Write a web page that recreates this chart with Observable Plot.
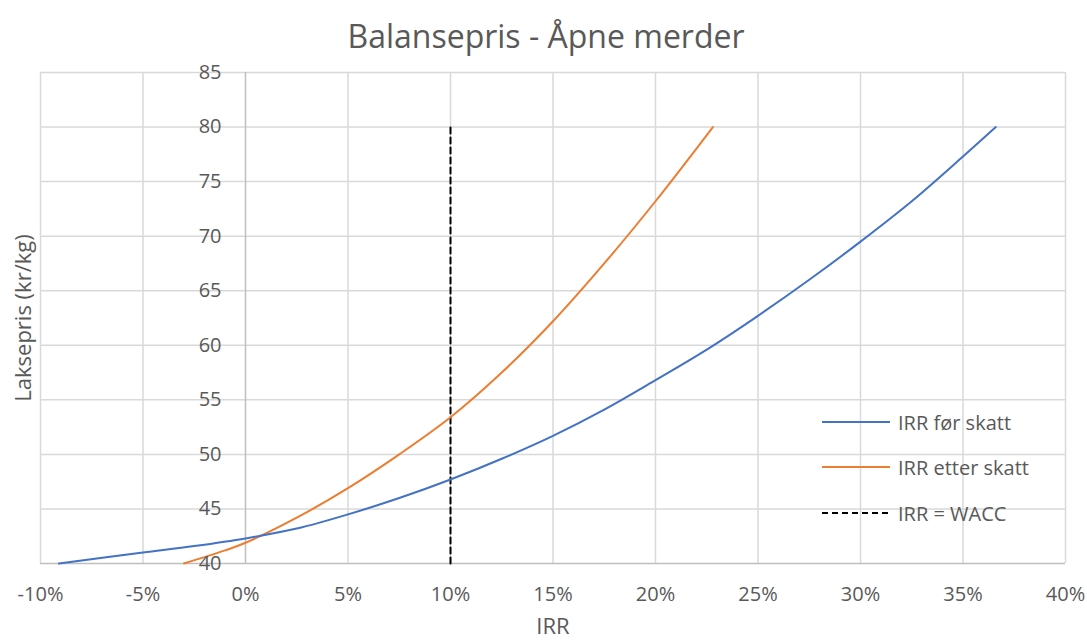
<!DOCTYPE html>
<html>
<head>
<meta charset="utf-8">
<script src="https://cdn.jsdelivr.net/npm/d3@7"></script>
<script src="https://cdn.jsdelivr.net/npm/@observablehq/plot@0.6"></script>
<style>
  html, body { margin: 0; padding: 0; background: #fff; }
  #wrap { position: relative; width: 1087px; height: 641px; font-family: "Open Sans", sans-serif; }
  .leg { position: absolute; left: 822px; font-size: 20px; color: #595959; display: flex; align-items: center; height: 26px; }
  .leg svg { margin-right: 8px; }
</style>
</head>
<body>
<div id="wrap"></div>
<script>
const title = "Balansepris - Åpne merder";
const xLabel = "IRR";
const yLabel = "Laksepris (kr/kg)";
const xTicks = [-10, -5, 0, 5, 10, 15, 20, 25, 30, 35, 40];
const yTicks = [40, 45, 50, 55, 60, 65, 70, 75, 80, 85];

const seriesNames = ["IRR før skatt", "IRR etter skatt", "IRR = WACC"];
const seriesColors = ["#4472c4", "#ed7d31", "#000000"];

const irrBefore = [-9.1, -5, -2.5, 0, 2.5, 5, 7.5, 10, 12.5, 15, 17.5, 20, 22.5, 25, 27.5, 30, 32.5, 35, 36.6];
const priceBefore = [40, 41.0, 41.6, 42.3, 43.2, 44.5, 46.0, 47.7, 49.6, 51.7, 54.1, 56.8, 59.6, 62.7, 66.0, 69.5, 73.2, 77.3, 80];

const irrAfter = [-3, -1, 0, 2.5, 5, 7.5, 10, 12.5, 15, 17.5, 20, 22.8];
const priceAfter = [40, 41.2, 41.9, 44.2, 46.9, 50.0, 53.4, 57.5, 62.2, 67.5, 73.2, 80];

const waccIrr = [10, 10];
const waccPrice = [40, 80];

const before = irrBefore.map((x, i) => ({x, y: priceBefore[i]}));
const after = irrAfter.map((x, i) => ({x, y: priceAfter[i]}));
const wacc = waccIrr.map((x, i) => ({x, y: waccPrice[i]}));

const font = "Open Sans, sans-serif";
const txt = "#595959";

const chart = Plot.plot({
  width: 1087,
  height: 641,
  marginLeft: 40,
  marginRight: 22,
  marginTop: 72,
  marginBottom: 78,
  x: {domain: [-10, 40], axis: null},
  y: {domain: [40, 85], axis: null},
  style: {fontFamily: font, background: "#fff"},
  marks: [
    Plot.ruleX(xTicks.filter(d => d !== 0), {stroke: "#d9d9d9", strokeWidth: 1.5}),
    Plot.ruleY(yTicks.filter(d => d !== 40), {stroke: "#d9d9d9", strokeWidth: 1.5}),
    Plot.ruleX([0], {stroke: "#bfbfbf", strokeWidth: 1.5}),
    Plot.ruleY([40], {stroke: "#bfbfbf", strokeWidth: 1.5}),
    Plot.line(wacc, {x: "x", y: "y", stroke: seriesColors[2], strokeWidth: 2, strokeDasharray: "6,4"}),
    Plot.line(after, {x: "x", y: "y", stroke: seriesColors[1], strokeWidth: 2, curve: "catmull-rom"}),
    Plot.line(before, {x: "x", y: "y", stroke: seriesColors[0], strokeWidth: 2, curve: "catmull-rom"}),
    Plot.text(yTicks, {x: 0, y: d => d, text: d => String(d), textAnchor: "end", dx: -24, fontSize: 20, fill: txt}),
    Plot.text(xTicks, {x: d => d, y: 40, text: d => d + "%", dy: 31, fontSize: 20, fill: txt}),
    Plot.text([title], {frameAnchor: "top", text: d => d, dx: -7, dy: -47, fontSize: 32, fill: txt}),
    Plot.text([yLabel], {frameAnchor: "left", text: d => d, textAnchor: "middle", dx: -17, rotate: -90, fontSize: 22, fill: txt}),
    Plot.text([xLabel], {frameAnchor: "bottom", text: d => d, dy: 70, fontSize: 22, fill: txt})
  ]
});

const wrap = document.getElementById("wrap");
wrap.appendChild(chart);

const legTops = [409, 454, 500];
seriesNames.forEach((name, i) => {
  const div = document.createElement("div");
  div.className = "leg";
  div.style.top = legTops[i] + "px";
  const dash = i === 2 ? ' stroke-dasharray="6,4"' : '';
  div.innerHTML = `<svg width="68" height="4"><line x1="0" y1="2" x2="68" y2="2" stroke="${seriesColors[i]}" stroke-width="2"${dash}/></svg><span>${name}</span>`;
  wrap.appendChild(div);
});
</script>
</body>
</html>
